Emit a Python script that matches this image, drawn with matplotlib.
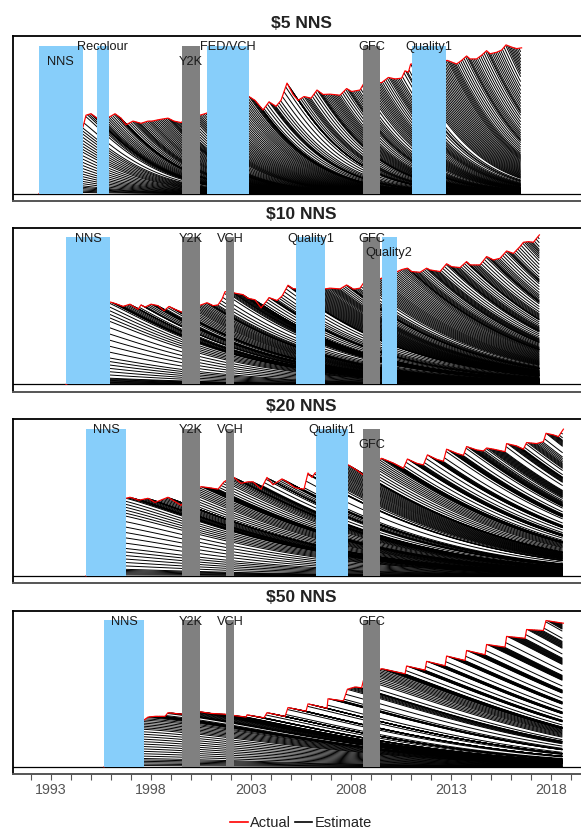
import numpy as np
import matplotlib
matplotlib.use("Agg")
import matplotlib.pyplot as plt
from matplotlib.collections import LineCollection
from matplotlib.lines import Line2D

plt.rcParams['font.family'] = ['Liberation Sans', 'DejaVu Sans']

# ---------------- data (heights relative to event-bar top = 1) -------------
PANEL_TITLES = [r'\$5 NNS', r'\$10 NNS', r'\$20 NNS', r'\$50 NNS']

ACT5_T = [1992.4, 1992.9, 1993.4, 1993.9, 1994.4, 1994.6, 1994.75, 1995.0, 1995.3, 1995.6, 1995.95,
          1996.2, 1996.5, 1996.75, 1997.1, 1997.5, 1997.85, 1998.05, 1998.4, 1998.85, 1999.15, 1999.5,
          2000.0, 2000.45, 2000.7, 2001.5, 2002.3, 2002.9, 2003.2, 2003.6, 2003.9, 2004.25, 2004.5,
          2004.8, 2005.1, 2005.35, 2005.65, 2006.0, 2006.3, 2006.6, 2006.95, 2007.45, 2007.78, 2008.03,
          2008.45, 2008.62, 2009.0, 2009.53, 2009.87, 2010.2, 2010.53, 2010.7, 2010.87, 2010.98, 2011.9,
          2012.82, 2013.28, 2013.53, 2013.78, 2013.95, 2014.28, 2014.53, 2014.78, 2014.95, 2015.28,
          2015.53, 2015.75, 2016.03, 2016.28, 2016.53]
ACT5_V = [0.0, 0.08, 0.2, 0.33, 0.42, 0.45, 0.53, 0.54, 0.51, 0.5, 0.52,
          0.54, 0.51, 0.465, 0.49, 0.475, 0.49, 0.49, 0.5, 0.51, 0.49, 0.48,
          0.53, 0.53, 0.54, 0.58, 0.63, 0.656, 0.63, 0.565, 0.62, 0.59, 0.63,
          0.747, 0.67, 0.63, 0.656, 0.645, 0.70, 0.67, 0.672, 0.665, 0.71, 0.69,
          0.70, 0.74, 0.75, 0.75, 0.785, 0.775, 0.78, 0.83, 0.82, 0.875, 0.89,
          0.90, 0.876, 0.9, 0.93, 0.91, 0.91, 0.935, 0.966, 0.945, 0.955,
          0.97, 1.005, 0.99, 0.98, 0.985]

ACT10_T = [1993.75, 1994.5, 1995.0, 1995.5, 1995.95, 1996.2, 1996.6, 1996.95, 1997.35, 1997.5, 1997.7,
           1998.0, 1998.35, 1998.65, 1998.9, 1999.2, 1999.55, 2000.0, 2000.5, 2000.8, 2001.1, 2001.35,
           2001.55, 2001.7, 2002.0, 2002.2, 2002.6, 2002.85, 2003.2, 2003.5, 2003.8, 2003.9, 2004.3,
           2004.55, 2004.85, 2005.1, 2006.0, 2006.75, 2006.95, 2007.45, 2007.78, 2008.12, 2008.45,
           2008.62, 2009.5, 2010.32, 2010.53, 2010.82, 2011.03, 2011.45, 2011.78, 2011.95, 2012.45,
           2012.78, 2013.03, 2013.45, 2013.78, 2013.95, 2014.45, 2014.78, 2015.12, 2015.45, 2015.78,
           2016.12, 2016.45, 2016.62, 2016.87, 2017.12, 2017.28, 2017.42]
ACT10_V = [0.0, 0.05, 0.2, 0.45, 0.56, 0.55, 0.53, 0.545, 0.51, 0.54, 0.525,
           0.545, 0.535, 0.50, 0.53, 0.51, 0.49, 0.52, 0.54, 0.555, 0.535, 0.54,
           0.58, 0.63, 0.63, 0.62, 0.61, 0.585, 0.575, 0.52, 0.57, 0.59, 0.57,
           0.60, 0.674, 0.65, 0.65, 0.65, 0.654, 0.649, 0.676, 0.647, 0.654,
           0.688, 0.72, 0.767, 0.78, 0.79, 0.767, 0.762, 0.79, 0.778, 0.767,
           0.82, 0.80, 0.794, 0.835, 0.812, 0.812, 0.869, 0.846, 0.857, 0.907,
           0.89, 0.937, 0.966, 0.97, 0.966, 0.993, 1.016]

ACT20_T = [1994.75, 1995.25, 1995.75, 1996.25, 1996.75, 1996.95, 1997.4, 1997.85, 1998.2, 1998.85, 1999.5,
           2000.0, 2000.5, 2000.9, 2001.35, 2001.65, 2001.9, 2002.15, 2002.5, 2002.85, 2003.1, 2003.5,
           2003.8, 2004.1, 2004.55, 2004.8, 2005.2, 2005.65, 2005.85, 2006.05, 2006.2, 2007.0, 2007.87,
           2008.28, 2008.62, 2009.0, 2009.53, 2010.12, 2010.62, 2010.82, 2011.28, 2011.62, 2011.82,
           2012.28, 2012.62, 2012.78, 2013.28, 2013.62, 2013.78, 2014.28, 2014.62, 2014.78, 2015.12,
           2015.7, 2015.78, 2016.28, 2016.62, 2016.78, 2017.28, 2017.62, 2017.75, 2018.12, 2018.37,
           2018.62]
ACT20_V = [0.0, 0.05, 0.2, 0.42, 0.528, 0.535, 0.515, 0.528, 0.50, 0.535, 0.48,
           0.56, 0.607, 0.60, 0.59, 0.64, 0.66, 0.67, 0.63, 0.64, 0.64, 0.59,
           0.67, 0.62, 0.66, 0.64, 0.60, 0.59, 0.70, 0.67, 0.70, 0.73, 0.755,
           0.72, 0.686, 0.75, 0.80, 0.767, 0.732, 0.795, 0.766, 0.755, 0.823,
           0.793, 0.78, 0.862, 0.834, 0.82, 0.88, 0.857, 0.85, 0.87, 0.862,
           0.845, 0.90, 0.884, 0.862, 0.907, 0.90, 0.913, 0.97, 0.959, 0.947,
           0.998]

ACT50_T = [1995.65, 1996.15, 1996.65, 1997.15, 1997.65, 1997.85, 1998.2, 1998.7, 1998.85, 1999.5,
           2000.0, 2000.5, 2001.0, 2001.65, 2002.2, 2002.75, 2002.8, 2003.65, 2003.8, 2004.7, 2004.85,
           2005.75, 2005.85, 2006.8, 2006.85, 2007.62, 2007.82, 2008.2, 2008.53, 2008.62, 2009.0,
           2009.53, 2010.7, 2010.78, 2011.7, 2011.78, 2012.7, 2012.78, 2013.7, 2013.78, 2014.7,
           2014.78, 2015.7, 2015.78, 2016.7, 2016.78, 2017.62, 2017.75, 2018.45, 2018.62]
ACT50_V = [0.0, 0.06, 0.16, 0.26, 0.32, 0.34, 0.345, 0.345, 0.37, 0.36,
           0.38, 0.375, 0.365, 0.36, 0.35, 0.34, 0.355, 0.335, 0.37, 0.344, 0.405,
           0.38, 0.43, 0.40, 0.465, 0.45, 0.53, 0.545, 0.54, 0.59, 0.63,
           0.67, 0.635, 0.688, 0.66, 0.72, 0.69, 0.756, 0.726, 0.794, 0.765,
           0.835, 0.817, 0.89, 0.877, 0.937, 0.93, 0.998, 0.983, 0.98]

ACT_T = [ACT5_T, ACT10_T, ACT20_T, ACT50_T]
ACT_V = [ACT5_V, ACT10_V, ACT20_V, ACT50_V]

SURV_SCALE = [3.5, 6.5, 9.0, 12.0]
SURV_SHAPE = [1.3, 1.2, 1.3, 1.6]

# events: name, start, end, kind, label row (0 = top, 1 = lower)
EV5_NAME = ['NNS', 'Recolour', 'Y2K', 'FED/VCH', 'GFC', 'Quality1']
EV5_START = [1992.4, 1995.3, 1999.55, 2000.8, 2008.62, 2011.04]
EV5_END = [1994.58, 1995.88, 2000.45, 2002.88, 2009.47, 2012.77]
EV5_KIND = ['note', 'note', 'shock', 'note', 'shock', 'note']
EV5_ROW = [1, 0, 1, 0, 0, 0]

EV10_NAME = ['NNS', 'Y2K', 'VCH', 'Quality1', 'GFC', 'Quality2']
EV10_START = [1993.75, 1999.55, 2001.75, 2005.25, 2008.62, 2009.53]
EV10_END = [1995.95, 2000.45, 2002.17, 2006.7, 2009.47, 2010.28]
EV10_KIND = ['note', 'shock', 'shock', 'note', 'shock', 'note']
EV10_ROW = [0, 0, 0, 0, 0, 1]

EV20_NAME = ['NNS', 'Y2K', 'VCH', 'Quality1', 'GFC']
EV20_START = [1994.75, 1999.55, 2001.75, 2006.25, 2008.62]
EV20_END = [1996.75, 2000.45, 2002.17, 2007.83, 2009.47]
EV20_KIND = ['note', 'shock', 'shock', 'note', 'shock']
EV20_ROW = [0, 0, 0, 0, 1]

EV50_NAME = ['NNS', 'Y2K', 'VCH', 'GFC']
EV50_START = [1995.65, 1999.55, 2001.75, 2008.62]
EV50_END = [1997.65, 2000.45, 2002.17, 2009.47]
EV50_KIND = ['note', 'shock', 'shock', 'shock']
EV50_ROW = [0, 0, 0, 0]

EVENTS = [(EV5_NAME, EV5_START, EV5_END, EV5_KIND, EV5_ROW),
          (EV10_NAME, EV10_START, EV10_END, EV10_KIND, EV10_ROW),
          (EV20_NAME, EV20_START, EV20_END, EV20_KIND, EV20_ROW),
          (EV50_NAME, EV50_START, EV50_END, EV50_KIND, EV50_ROW)]

YEAR_LABELS = [1993, 1998, 2003, 2008, 2013, 2018]

# ---------------- styling ----------------
KIND_COLOR = {'note': '#87CEFA', 'shock': '#808080'}
W, H = 581, 831
fig = plt.figure(figsize=(W / 100, H / 100), dpi=100)

# axes frames in pixels: (top, bottom)
FRAMES = [(36, 201), (227.7, 391.7), (419.3, 583.3), (610.7, 774.3)]
LEFT_PX, RIGHT_PX = 13, 589
XLIM = (1991.1, 2019.9)
YLIM = (-0.05, 1.065)
ROW_Y = [0.99, 0.89]


def cohort_lines(t_read, v_read, scale, shape):
    t = np.arange(t_read[0], t_read[-1] + 1e-6, 1 / 12)
    E = np.interp(t, t_read, v_read)
    age = t[None, :] - t[:, None]
    S = np.where(age >= 0, np.exp(-(np.clip(age, 0, None) / scale) ** shape), 0.0)
    n = len(t)
    inflow = np.zeros(n)
    for i in range(n):
        kept = inflow[:i] @ S[:i, i] if i else 0.0
        inflow[i] = max(E[i] - kept, 0.0)
    L = np.cumsum(inflow[:, None] * S, axis=0)
    return [np.column_stack([t[k:], L[k, k:]]) for k in range(n)]


axes = []
for p in range(4):
    top, bot = FRAMES[p]
    ax = fig.add_axes([LEFT_PX / W, 1 - bot / H, (RIGHT_PX - LEFT_PX) / W, (bot - top) / H])
    axes.append(ax)
    ax.set_xlim(*XLIM)
    ax.set_ylim(*YLIM)

    segs = cohort_lines(ACT_T[p], ACT_V[p], SURV_SCALE[p], SURV_SHAPE[p])
    ax.add_collection(LineCollection(segs, colors='black', linewidths=0.7, zorder=3))
    ax.plot(ACT_T[p], ACT_V[p], color='red', lw=0.85, zorder=4)
    ax.axhline(0, color='black', lw=0.9, zorder=2)

    names, starts, ends, kinds, rows = EVENTS[p]
    for nm, s, e, kd, r in zip(names, starts, ends, kinds, rows):
        ax.bar(s, 1.0, width=e - s, bottom=0, align='edge', color=KIND_COLOR[kd],
               edgecolor='none', zorder=5)
        ax.text((s + e) / 2, ROW_Y[r], nm, ha='center', va='center', fontsize=9.2,
                color='#1a1a1a', zorder=6)

    for side in ['top', 'left', 'right']:
        ax.spines[side].set_color('black')
        ax.spines[side].set_linewidth(1.3)
    ax.spines['bottom'].set_color('#555555')
    ax.spines['bottom'].set_linewidth(1.4)
    ax.set_yticks([])

    fig.text(((LEFT_PX + RIGHT_PX) / 2) / W, 1 - (top - 13) / H, PANEL_TITLES[p],
             ha='center', va='center', fontsize=12.5, fontweight='bold', color='#222222')

    if p < 3:
        ax.set_xticks([])
    else:
        ax.set_xticks(YEAR_LABELS)
        ax.set_xticklabels([str(y) for y in YEAR_LABELS])
        ax.set_xticks(np.arange(1992, 2020), minor=True)
        ax.tick_params(axis='x', which='both', direction='out', length=4, width=0.8,
                       color='#555555', labelcolor='#555555', labelsize=10.3, pad=2)

handles = [Line2D([], [], color='red', lw=1.2), Line2D([], [], color='black', lw=1.2)]
fig.legend(handles, ['Actual', 'Estimate'], loc='center', ncol=2, frameon=False,
           bbox_to_anchor=(((LEFT_PX + RIGHT_PX) / 2) / W, 1 - 823 / H), fontsize=10.5,
           handlelength=1.2, handletextpad=0.15, columnspacing=0.25, labelcolor='#222222')

fig.savefig('out.png', dpi=100)
